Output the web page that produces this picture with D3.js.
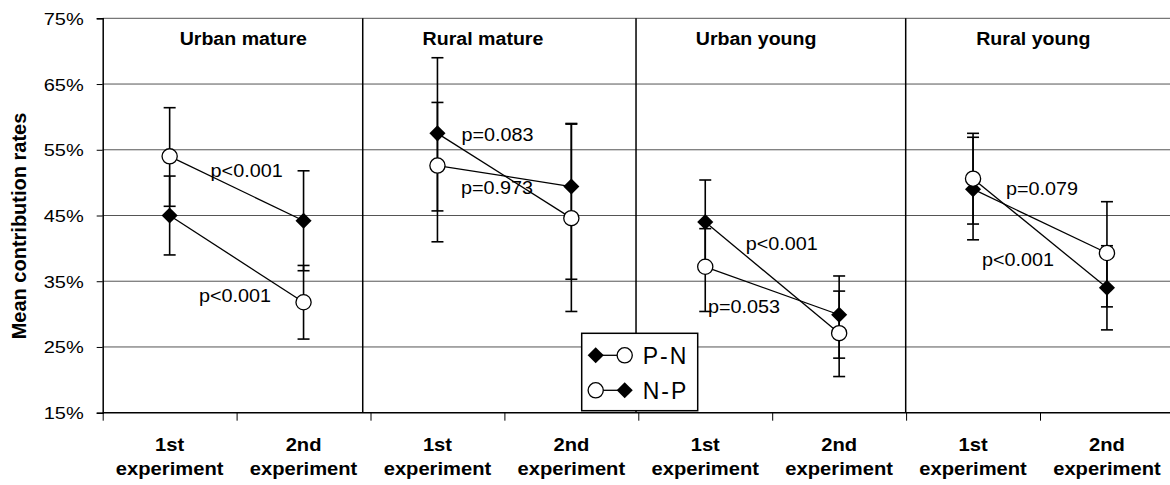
<!DOCTYPE html>
<html>
<head>
<meta charset="utf-8">
<script src="https://cdn.jsdelivr.net/npm/d3@7"></script>
<style>
  body { margin: 0; background: #fff; }
  text { font-family: "Liberation Sans", Arial, sans-serif; fill: #000; }
</style>
</head>
<body>
<script>
var groups = ["Urban mature", "Rural mature", "Urban young", "Rural young"];
var phaseTop = ["1st", "2nd"];
var phaseBottom = ["experiment", "experiment"];
var yTicks = [15, 25, 35, 45, 55, 65, 75];

// P-N : diamond at 1st, circle at 2nd
var pnMean = [[45.0, 31.8], [57.5, 44.6], [44.0, 27.1], [49.0, 39.3]];
var pnLow  = [[39.0, 26.2], [45.7, 30.4], [37.6, 20.5], [41.3, 31.1]];
var pnHigh = [[51.0, 37.4], [69.0, 58.9], [50.4, 33.5], [56.9, 47.1]];
// N-P : circle at 1st, diamond at 2nd
var npMean = [[54.0, 44.2], [52.6, 49.4], [37.2, 29.9], [50.6, 34.0]];
var npLow  = [[46.4, 36.6], [41.0, 35.3], [30.4, 23.3], [43.7, 27.6]];
var npHigh = [[61.4, 51.8], [62.2, 59.0], [43.0, 35.8], [57.5, 40.4]];

var pLabels = ["p<0.001", "p<0.001", "p=0.083", "p=0.973", "p<0.001", "p=0.053", "p=0.079", "p<0.001"];

var width = 1170, height = 485;
var plotLeft = 102.7, catW = 133.9, plotTop = 18.3, plotBottom = 412.7;

var x = d3.scaleLinear().domain([0, 8]).range([plotLeft, plotLeft + 8 * catW]);
var y = d3.scaleLinear().domain([15, 75]).range([plotBottom, plotTop]);

var svg = d3.select("body").append("svg")
    .attr("width", width)
    .attr("height", height);

// grid
svg.append("g").selectAll("line")
    .data(yTicks)
    .enter().append("line")
    .attr("x1", plotLeft).attr("x2", width)
    .attr("y1", function(d) { return y(d); })
    .attr("y2", function(d) { return y(d); })
    .attr("stroke", function(d) { return d == 15 ? "#000" : "#555"; })
    .attr("stroke-width", function(d) { return d == 15 ? 1.5 : 1; });

// y axis
var yAxis = svg.append("g")
    .attr("transform", "translate(" + plotLeft + ",0)")
    .call(d3.axisLeft(y).tickValues(yTicks).tickSize(6).tickFormat(""));
yAxis.select(".domain").attr("stroke", "#000").attr("stroke-width", 1.5);
yAxis.selectAll(".tick line").attr("stroke", "#000");
yAxis.selectAll(".tick").append("text")
    .attr("transform", "translate(-19,6) scale(1.25,1)")
    .attr("text-anchor", "end")
    .style("font-size", "16px")
    .text(function(d) { return d + "%"; });

// x axis ticks
var xAxis = svg.append("g")
    .attr("transform", "translate(0," + plotBottom + ")")
    .call(d3.axisBottom(x).tickValues(d3.range(0, 9)).tickSize(8).tickFormat(""));
xAxis.select(".domain").remove();
xAxis.selectAll(".tick line").attr("stroke", "#000");

// panel separators
var separatorAt = [1.942, 3.983, 5.997];
svg.append("g").selectAll("line")
    .data(separatorAt)
    .enter().append("line")
    .attr("x1", function(d) { return x(d); })
    .attr("x2", function(d) { return x(d); })
    .attr("y1", plotTop).attr("y2", plotBottom)
    .attr("stroke", "#000").attr("stroke-width", 1.5);

// x labels
var cats = [];
groups.forEach(function(g, gi) {
  phaseTop.forEach(function(p, pi) { cats.push({ i: gi * 2 + pi, top: p, bot: phaseBottom[pi] }); });
});
var xl = svg.append("g").selectAll("g")
    .data(cats)
    .enter().append("g")
    .attr("transform", function(d) { return "translate(" + x(d.i + 0.5) + ",0)"; });
xl.append("text")
    .attr("transform", "translate(0,451) scale(1.12,1)")
    .attr("text-anchor", "middle")
    .style("font-size", "18px").style("font-weight", "bold")
    .text(function(d) { return d.top; });
xl.append("text")
    .attr("transform", "translate(0,475) scale(1.12,1)")
    .attr("text-anchor", "middle")
    .style("font-size", "18px").style("font-weight", "bold")
    .text(function(d) { return d.bot; });

// y title
svg.append("text")
    .attr("transform", "translate(26,226) rotate(-90)")
    .attr("text-anchor", "middle")
    .style("font-size", "20px").style("font-weight", "bold")
    .text("Mean contribution rates");

// panel titles
var titleAt = [1.05, 2.84, 4.88, 6.95];
svg.append("g").selectAll("text")
    .data(groups)
    .enter().append("text")
    .attr("transform", function(d, i) { return "translate(" + x(titleAt[i]) + ",45) scale(1.12,1)"; })
    .attr("text-anchor", "middle")
    .style("font-size", "17.5px").style("font-weight", "bold")
    .text(function(d) { return d; });

// series points
function makeSeries(mean, lo, hi, firstShape, secondShape) {
  var out = [];
  mean.forEach(function(m, gi) {
    out.push([
      { xi: gi * 2 + 0.5, v: m[0], lo: lo[gi][0], hi: hi[gi][0], shape: firstShape },
      { xi: gi * 2 + 1.5, v: m[1], lo: lo[gi][1], hi: hi[gi][1], shape: secondShape }
    ]);
  });
  return out;
}
var pn = makeSeries(pnMean, pnLow, pnHigh, "diamond", "circle");
var np = makeSeries(npMean, npLow, npHigh, "circle", "diamond");
var allPts = d3.merge(pn.concat(np));

// error bars
var eb = svg.append("g").selectAll("g")
    .data(allPts)
    .enter().append("g")
    .attr("stroke", "#000").attr("stroke-width", 1.6);
eb.append("line")
    .attr("x1", function(d) { return x(d.xi); })
    .attr("x2", function(d) { return x(d.xi); })
    .attr("y1", function(d) { return y(d.lo); })
    .attr("y2", function(d) { return y(d.hi); });
eb.append("line")
    .attr("x1", function(d) { return x(d.xi) - 6; })
    .attr("x2", function(d) { return x(d.xi) + 6; })
    .attr("y1", function(d) { return y(d.lo); })
    .attr("y2", function(d) { return y(d.lo); });
eb.append("line")
    .attr("x1", function(d) { return x(d.xi) - 6; })
    .attr("x2", function(d) { return x(d.xi) + 6; })
    .attr("y1", function(d) { return y(d.hi); })
    .attr("y2", function(d) { return y(d.hi); });

// connecting lines
var line = d3.line()
    .x(function(d) { return x(d.xi); })
    .y(function(d) { return y(d.v); });
svg.append("g").selectAll("path")
    .data(pn.concat(np))
    .enter().append("path")
    .attr("d", line)
    .attr("fill", "none")
    .attr("stroke", "#000").attr("stroke-width", 1.3);

// markers
var diamond = d3.symbol().type(d3.symbolDiamond2).size(165);
function drawMarker(sel) {
  sel.each(function(d) {
    var g = d3.select(this);
    if (d.shape == "circle") {
      g.append("circle").attr("r", 7.6)
        .attr("fill", "#fff").attr("stroke", "#000").attr("stroke-width", 1.3);
    } else {
      g.append("path").attr("d", diamond).attr("fill", "#000");
    }
  });
}
svg.append("g").selectAll("g")
    .data(allPts)
    .enter().append("g")
    .attr("transform", function(d) { return "translate(" + x(d.xi) + "," + y(d.v) + ")"; })
    .call(drawMarker);

// p-value labels (x in category units, y in %)
var pLabelX = [1.075, 0.988, 2.948, 2.945, 5.071, 4.789, 7.015, 6.836];
var pLabelY = [51.9, 32.9, 57.25, 49.2, 40.8, 31.2, 49.1, 38.3];
svg.append("g").selectAll("text")
    .data(pLabels)
    .enter().append("text")
    .attr("transform", function(d, i) { return "translate(" + x(pLabelX[i]) + "," + (y(pLabelY[i]) + 6.5) + ") scale(1.1,1)"; })
    .attr("text-anchor", "middle")
    .style("font-size", "18px")
    .text(function(d) { return d; });

// legend
var legend = svg.append("g").attr("transform", "translate(581.7,333.3)");
legend.append("rect")
    .attr("width", 116).attr("height", 77.4)
    .attr("fill", "#fff").attr("stroke", "#000").attr("stroke-width", 1.5);
var legendItems = [
  { label: "P-N", shapes: ["diamond", "circle"], y: 22 },
  { label: "N-P", shapes: ["circle", "diamond"], y: 57 }
];
var li = legend.selectAll(".item")
    .data(legendItems)
    .enter().append("g")
    .attr("class", "item")
    .attr("transform", function(d) { return "translate(0," + d.y + ")"; });
li.append("line")
    .attr("x1", 14).attr("x2", 43)
    .attr("stroke", "#000").attr("stroke-width", 1.3);
li.selectAll("g")
    .data(function(d) { return d.shapes.map(function(s, k) { return { shape: s, k: k }; }); })
    .enter().append("g")
    .attr("transform", function(d) { return "translate(" + (d.k == 0 ? 14 : 43) + ",0)"; })
    .call(drawMarker);
li.append("text")
    .attr("x", 61).attr("y", 8.5)
    .style("font-size", "23px")
    .style("letter-spacing", "2px")
    .text(function(d) { return d.label; });
</script>
</body>
</html>
